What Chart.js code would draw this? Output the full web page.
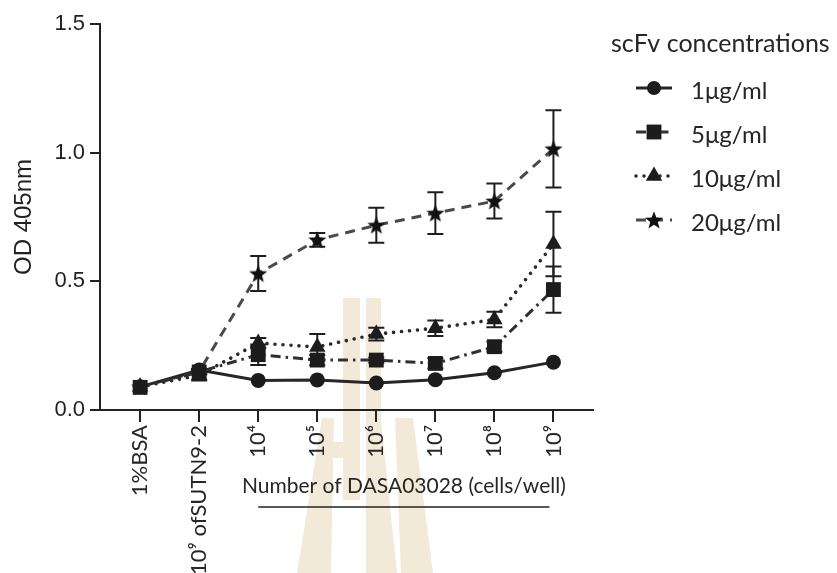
<!DOCTYPE html>
<html>
<head>
<meta charset="utf-8">
<script src="https://cdn.jsdelivr.net/npm/chart.js@4.4.1/dist/chart.umd.min.js"></script>
<style>
  html, body { margin: 0; padding: 0; background: #fff; }
  #wrap { width: 837px; height: 573px; position: relative; }
</style>
</head>
<body>
<div id="wrap"><canvas id="c" width="837" height="573"></canvas></div>
<script>
// Categories along the x axis (controls, then cell counts per well)
const categories = ['1%BSA', '10\u2079 ofSUTN9-2', '10\u2074', '10\u2075', '10\u2076', '10\u2077', '10\u2078', '10\u2079'];
const seriesNames = ['1\u03bcg/ml', '5\u03bcg/ml', '10\u03bcg/ml', '20\u03bcg/ml'];

// Mean OD 405nm for each scFv concentration
const od1  = [0.090, 0.155, 0.115, 0.117, 0.105, 0.118, 0.145, 0.186];
const od5  = [0.088, 0.148, 0.215, 0.194, 0.194, 0.181, 0.246, 0.468];
const od10 = [0.090, 0.135, 0.260, 0.245, 0.295, 0.318, 0.352, 0.645];
const od20 = [0.090, 0.150, 0.530, 0.661, 0.718, 0.765, 0.812, 1.015];

// Error (± SEM) for each point
const sem1  = [0, 0, 0, 0, 0, 0, 0, 0];
const sem5  = [0, 0.010, 0.040, 0.020, 0.010, 0.020, 0.020, 0.090];
const sem10 = [0, 0.020, 0.020, 0.050, 0.025, 0.030, 0.030, 0.125];
const sem20 = [0, 0.010, 0.068, 0.027, 0.068, 0.081, 0.068, 0.150];

const yTicks = [0, 0.5, 1.0, 1.5];
const yAxisTitle = 'OD 405nm';
const xAxisTitle = 'Number of DASA03028 (cells/well)';
const legendTitle = 'scFv concentrations';

const seriesValues = [od1, od5, od10, od20];
const seriesSem = [sem1, sem5, sem10, sem20];

// Filled five-point star used as a point marker
function makeStar(size, color) {
  const c = document.createElement('canvas');
  c.width = size; c.height = size;
  const g = c.getContext('2d');
  const cx = size / 2, cy = size / 2 + 0.8;
  const ro = size / 2 - 0.5, ri = ro * 0.42;
  g.fillStyle = color;
  g.beginPath();
  for (let k = 0; k < 10; k++) {
    const r = k % 2 === 0 ? ro : ri;
    const a = -Math.PI / 2 + k * Math.PI / 5;
    const px = cx + r * Math.cos(a), py = cy + r * Math.sin(a);
    if (k === 0) g.moveTo(px, py); else g.lineTo(px, py);
  }
  g.closePath();
  g.fill();
  return c;
}
const starMarker = makeStar(20, '#111');

const seriesStyles = [
  { pointStyle: 'circle',   radius: 7.5,  dash: [],              width: 3,   color: '#262626', cap: 'butt'  },
  { pointStyle: 'rect',     radius: 10.5, dash: [10, 5, 2.5, 5], width: 3,   color: '#303030', cap: 'butt'  },
  { pointStyle: 'triangle', radius: 9.5,  dash: [0.01, 8],       width: 3.6, color: '#2a2a2a', cap: 'round' },
  { pointStyle: starMarker, radius: 10,   dash: [10, 7],         width: 3,   color: '#4a4a4a', cap: 'butt'  }
];

const datasets = seriesValues.map((vals, s) => {
  const st = seriesStyles[s];
  return {
    label: seriesNames[s],
    data: vals.map((v, i) => ({ x: i, y: v })),
    borderColor: st.color,
    borderWidth: st.width,
    borderDash: st.dash,
    borderCapStyle: st.cap,
    pointStyle: st.pointStyle,
    pointRadius: st.radius,
    pointHoverRadius: st.radius,
    pointBackgroundColor: '#1c1c1c',
    pointBorderColor: '#1c1c1c',
    pointBorderWidth: 0,
    tension: 0,
    fill: false,
    order: [2, 0, 1, 3][s]
  };
});

// Light watermark emblem behind the plot
const watermarkPlugin = {
  id: 'watermark',
  beforeDraw(chart) {
    const ctx = chart.ctx;
    ctx.save();
    ctx.fillStyle = '#f2e9d8';
    const polys = [
      [[343, 298], [360, 298], [360, 500], [343, 500]],
      [[366, 298], [381, 298], [381, 420], [397, 573], [366, 573]],
      [[322, 418], [334, 418], [331, 573], [297, 573]],
      [[322, 442], [360, 442], [360, 458], [322, 458]],
      [[395, 418], [413, 418], [433, 573], [401, 573]]
    ];
    polys.forEach(p => {
      ctx.beginPath();
      p.forEach(([x, y], k) => k ? ctx.lineTo(x, y) : ctx.moveTo(x, y));
      ctx.closePath();
      ctx.fill();
    });
    ctx.restore();
  }
};

// Vertical error bars with caps, drawn under the markers
const errorBarPlugin = {
  id: 'errorBars',
  beforeDatasetsDraw(chart) {
    const { ctx, scales: { x, y } } = chart;
    ctx.save();
    ctx.strokeStyle = '#1e1e1e';
    ctx.lineWidth = 2;
    ctx.setLineDash([]);
    seriesValues.forEach((vals, s) => {
      vals.forEach((v, i) => {
        const e = seriesSem[s][i];
        if (!e) return;
        const px = x.getPixelForValue(i);
        const yt = y.getPixelForValue(v + e);
        const yb = y.getPixelForValue(v - e);
        ctx.beginPath();
        ctx.moveTo(px, yt); ctx.lineTo(px, yb);
        ctx.moveTo(px - 8, yt); ctx.lineTo(px + 8, yt);
        ctx.moveTo(px - 8, yb); ctx.lineTo(px + 8, yb);
        ctx.stroke();
      });
    });
    ctx.restore();
  }
};

function drawMarker(ctx, style, r, cx, cy) {
  ctx.fillStyle = '#1c1c1c';
  if (style === 'circle') {
    ctx.beginPath(); ctx.arc(cx, cy, r, 0, Math.PI * 2); ctx.fill();
  } else if (style === 'rect') {
    const h = r * Math.SQRT1_2;
    ctx.fillRect(cx - h, cy - h, 2 * h, 2 * h);
  } else if (style === 'triangle') {
    ctx.beginPath();
    ctx.moveTo(cx, cy - r);
    ctx.lineTo(cx - r * Math.sin(Math.PI / 3), cy + r / 2);
    ctx.lineTo(cx + r * Math.sin(Math.PI / 3), cy + r / 2);
    ctx.closePath(); ctx.fill();
  } else {
    ctx.drawImage(style, cx - style.width / 2, cy - style.height / 2);
  }
}

// Bracketed x-axis group title and the series key on the right
const annotationPlugin = {
  id: 'annotations',
  afterDraw(chart) {
    const { ctx, scales: { x } } = chart;
    ctx.save();
    // group title under the cell-count ticks
    const x0 = x.getPixelForValue(2), x1 = x.getPixelForValue(7);
    ctx.fillStyle = '#262626';
    ctx.font = '21px Lato';
    ctx.textAlign = 'center';
    ctx.textBaseline = 'middle';
    ctx.fillText(xAxisTitle, (x0 + x1) / 2 - 2, 486);
    ctx.strokeStyle = '#222';
    ctx.lineWidth = 1.5;
    ctx.beginPath(); ctx.moveTo(x0, 507); ctx.lineTo(x1 - 4, 507); ctx.stroke();

    // key
    ctx.textAlign = 'left';
    ctx.font = '25px Lato';
    ctx.fillText(legendTitle, 611, 44);
    ctx.font = '24px Lato';
    seriesNames.forEach((name, s) => {
      const st = seriesStyles[s];
      const yy = 88 + s * 44;
      ctx.strokeStyle = st.color;
      ctx.lineWidth = st.width;
      ctx.lineCap = st.cap;
      ctx.setLineDash(st.dash);
      ctx.beginPath(); ctx.moveTo(636, yy); ctx.lineTo(672, yy); ctx.stroke();
      ctx.setLineDash([]);
      drawMarker(ctx, st.pointStyle, st.pointStyle === 'circle' ? 7 : st.pointStyle === 'rect' ? 10.5 : st.radius, 654, yy);
      ctx.fillStyle = '#262626';
      ctx.fillText(name, 691, yy + 3);
    });
    ctx.restore();
  }
};

new Chart(document.getElementById('c'), {
  type: 'line',
  data: { datasets },
  plugins: [watermarkPlugin, errorBarPlugin, annotationPlugin],
  options: {
    responsive: false,
    animation: false,
    devicePixelRatio: 1,
    layout: { padding: { top: 24, right: 244, left: 0, bottom: 0 } },
    plugins: { legend: { display: false }, tooltip: { enabled: false } },
    scales: {
      x: {
        type: 'linear',
        min: -0.68,
        max: 7.67,
        afterBuildTicks: s => { s.ticks = categories.map((_, i) => ({ value: i })); },
        afterFit: s => { s.height = 163; },
        ticks: {
          autoSkip: false,
          minRotation: 90,
          maxRotation: 90,
          padding: 3,
          color: '#262626',
          font: { family: 'Lato', size: 22 },
          callback: v => categories[v]
        },
        grid: { drawOnChartArea: false, drawTicks: true, tickLength: 12, color: '#222', lineWidth: 2 },
        border: { display: true, color: '#222', width: 2 }
      },
      y: {
        min: 0,
        max: 1.5,
        afterBuildTicks: s => { s.ticks = yTicks.map(v => ({ value: v })); },
        afterFit: s => { s.width = 100; },
        ticks: {
          color: '#222',
          padding: 5,
          font: { family: 'Liberation Sans', size: 22 },
          callback: v => v.toFixed(1)
        },
        grid: { drawOnChartArea: false, drawTicks: true, tickLength: 10, color: '#222', lineWidth: 2 },
        border: { display: true, color: '#222', width: 2 },
        title: {
          display: true,
          text: yAxisTitle,
          color: '#222',
          font: { family: 'Liberation Sans', size: 24 },
          padding: { top: 10, bottom: 0 }
        }
      }
    }
  }
});
</script>
</body>
</html>
